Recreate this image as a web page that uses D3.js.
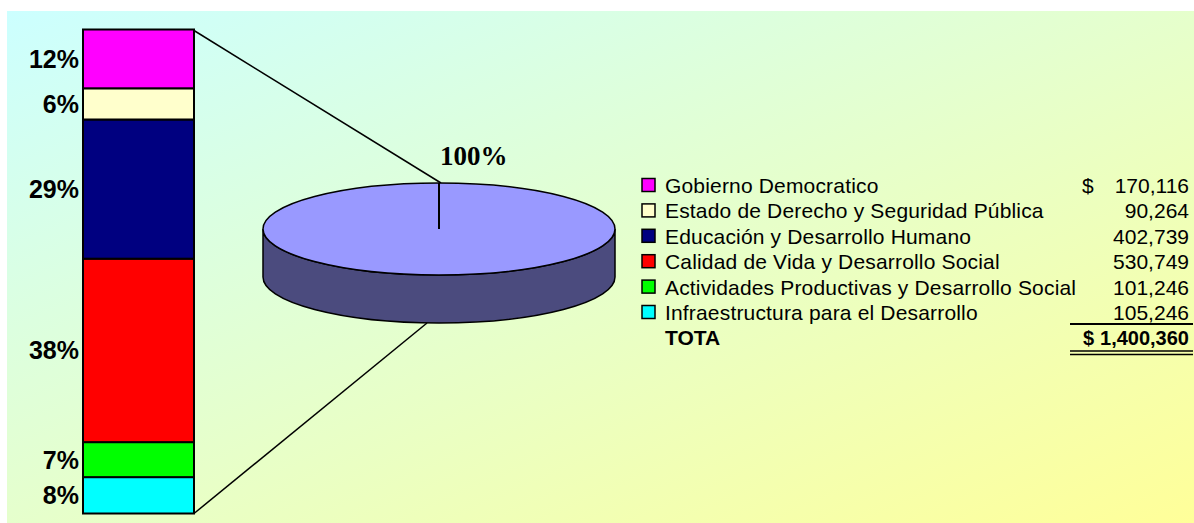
<!DOCTYPE html>
<html><head><meta charset="utf-8">
<script src="https://cdn.jsdelivr.net/npm/d3@7"></script>
<style>html,body{margin:0;padding:0;background:#fff;}svg{display:block;}</style>
</head><body>
<svg id="c" width="1194" height="523"></svg>
<script>
// ---- data ----
const categories = [
  "Gobierno Democratico",
  "Estado de Derecho y Seguridad Pública",
  "Educación y Desarrollo Humano",
  "Calidad de Vida y Desarrollo Social",
  "Actividades Productivas y Desarrollo Social",
  "Infraestructura para el Desarrollo"
];
const values = [170116, 90264, 402739, 530749, 101246, 105246];
const colors = ["#ff00ff", "#ffffcc", "#000080", "#ff0000", "#00ff00", "#00ffff"];
const totalLabel = "TOTA";
const pieValues = [100];
const pieLabel = "100%";

// ---- setup ----
const svg = d3.select("#c");
const font = "'Liberation Sans', Arial, sans-serif";
const total = d3.sum(values);

const defs = svg.append("defs");
const grad = defs.append("linearGradient").attr("id", "bg")
  .attr("x1", 0).attr("y1", 0).attr("x2", 1).attr("y2", 1);
grad.append("stop").attr("offset", 0).attr("stop-color", "#ccffff");
grad.append("stop").attr("offset", 1).attr("stop-color", "#ffff99");
svg.append("rect").attr("x", 7).attr("y", 11).attr("width", 1187).attr("height", 512)
  .attr("fill", "url(#bg)");

// ---- stacked bar ----
const barX = 83, barW = 111, barTop = 29.5, barBottom = 513.5;
const yScale = d3.scaleLinear().domain([0, total]).range([barBottom, barTop]);
const order = d3.range(values.length).reverse();
let acc = 0;
const segs = order.map(i => { const s = {i, y0: acc, y1: acc + values[i]}; acc += values[i]; return s; });

const barG = svg.append("g");
barG.selectAll("rect").data(segs).join("rect")
  .attr("x", barX).attr("width", barW)
  .attr("y", d => yScale(d.y1)).attr("height", d => yScale(d.y0) - yScale(d.y1))
  .attr("fill", d => colors[d.i]).attr("stroke", "#000").attr("stroke-width", 2);

barG.selectAll("text").data(segs).join("text")
  .attr("x", 79).attr("y", d => (yScale(d.y0) + yScale(d.y1)) / 2)
  .attr("dy", "0.36em").attr("text-anchor", "end")
  .attr("font-family", font).attr("font-weight", "bold").attr("font-size", 25)
  .text(d => Math.round(values[d.i] / total * 100) + "%");

// ---- 3D pie ----
const cx = 439, cy = 229, rx = 176, ry = 46, depth = 48;
const pie = d3.pie().sort(null)(pieValues);
const pt = (a, dy = 0) => [cx + rx * Math.sin(a), cy - ry * Math.cos(a) + dy];

svg.append("line").attr("x1", barX + barW).attr("y1", barTop + 1)
  .attr("x2", 441).attr("y2", cy - ry)
  .attr("stroke", "#000").attr("stroke-width", 1.5);
svg.append("line").attr("x1", barX + barW).attr("y1", barBottom)
  .attr("x2", 427).attr("y2", cy + ry + depth)
  .attr("stroke", "#000").attr("stroke-width", 1.5);

const sidePath = `M${cx - rx},${cy} L${cx - rx},${cy + depth} A${rx},${ry} 0 0 0 ${cx + rx},${cy + depth} L${cx + rx},${cy} A${rx},${ry} 0 0 1 ${cx - rx},${cy} Z`;
svg.append("path").attr("d", sidePath).attr("fill", "#4b4b7e")
  .attr("stroke", "#000").attr("stroke-width", 1.5);

pie.forEach(p => {
  const span = p.endAngle - p.startAngle;
  const top = svg.append("g");
  if (span >= 2 * Math.PI - 1e-6) {
    top.append("ellipse").attr("cx", cx).attr("cy", cy).attr("rx", rx).attr("ry", ry)
      .attr("fill", "#9999ff").attr("stroke", "#000").attr("stroke-width", 1.5);
  }
  const s = pt(p.startAngle);
  top.append("line").attr("x1", cx).attr("y1", cy).attr("x2", s[0]).attr("y2", s[1])
    .attr("stroke", "#000").attr("stroke-width", 2);
});

svg.append("text").attr("x", 440).attr("y", 165)
  .attr("font-family", "'Liberation Serif', 'Times New Roman', serif")
  .attr("font-weight", "bold").attr("font-size", 27).text(pieLabel);

// ---- legend table ----
const lx = 642, textX = 665, valRight = 1189, row0 = 193, rowH = 25.4;
const fmt = d3.format(",");
const leg = svg.append("g").attr("font-family", font).attr("font-size", 21);
categories.forEach((c, i) => {
  const yb = row0 + i * rowH;
  leg.append("rect").attr("x", lx).attr("y", yb - 14.5).attr("width", 13).attr("height", 13)
    .attr("fill", colors[i]).attr("stroke", "#000").attr("stroke-width", 1.5);
  leg.append("text").attr("x", textX).attr("y", yb).attr("letter-spacing", 0.17).text(c);
  leg.append("text").attr("x", valRight).attr("y", yb).attr("text-anchor", "end").text(fmt(values[i]));
  if (i === 0) leg.append("text").attr("x", 1082).attr("y", yb).text("$");
});
const yT = row0 + categories.length * rowH;
leg.append("text").attr("x", textX).attr("y", yT).attr("font-weight", "bold").text(totalLabel);
leg.append("text").attr("x", 1083).attr("y", yT).attr("font-weight", "bold").attr("font-size", 20).text("$");
leg.append("text").attr("x", valRight).attr("y", yT).attr("font-weight", "bold").attr("font-size", 20)
  .attr("text-anchor", "end").text(fmt(total));
[324, 351, 354.5].forEach(y => {
  leg.append("line").attr("x1", 1070).attr("x2", 1193).attr("y1", y).attr("y2", y)
    .attr("stroke", "#000").attr("stroke-width", y === 324 ? 2 : 1.6);
});
</script>
</body></html>
